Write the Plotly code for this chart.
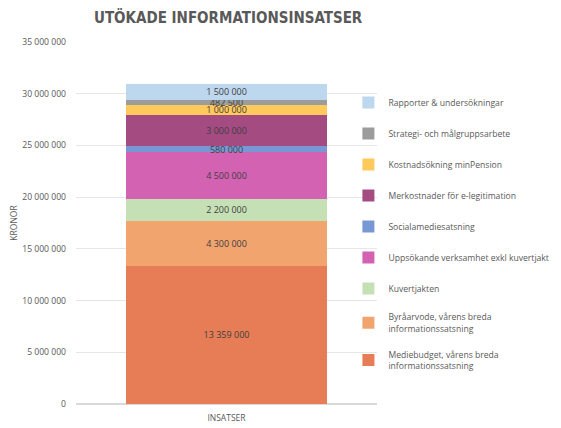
import plotly.graph_objects as go

category = ["INSATSER"]

series_names = [
    "Mediebudget, vårens breda<br>informationssatsning",
    "Byråarvode, vårens breda<br>informationssatsning",
    "Kuvertjakten",
    "Uppsökande verksamhet exkl kuvertjakt",
    "Socialamediesatsning",
    "Merkostnader för e-legitimation",
    "Kostnadsökning minPension",
    "Strategi- och målgruppsarbete",
    "Rapporter & undersökningar",
]
series_values = [13359000, 4300000, 2200000, 4500000, 580000, 3000000, 1000000, 482500, 1500000]
series_colors = ["#E67D56", "#F2A46F", "#C6E0B5", "#D462B3", "#7898D5",
                 "#A44B82", "#FFC95C", "#9C9C9C", "#BDD7EE"]

y_ticks = [0, 5000000, 10000000, 15000000, 20000000, 25000000, 30000000, 35000000]

fig = go.Figure()
n = len(series_names)
for i, (name, val, col) in enumerate(zip(series_names, series_values, series_colors)):
    fig.add_trace(go.Bar(
        x=category,
        y=[val],
        name=name,
        legendgroup=f"g{i}",
        legendrank=n - i,
        marker=dict(color=col, line=dict(width=0)),
        texttemplate="%{y:,}",
        textposition="inside",
        insidetextanchor="middle",
        constraintext="none",
        textfont=dict(size=9, color="#404040"),
        hoverinfo="skip",
    ))

# page body has an 8px margin, so the figure is a bit smaller than the window
fig.update_layout(
    width=553,
    height=420,
    barmode="stack",
    bargap=0.333,
    separators=", ",
    paper_bgcolor="white",
    plot_bgcolor="white",
    font=dict(family="Open Sans", size=9, color="#595959"),
    margin=dict(l=68, r=184, t=34, b=24, autoexpand=False),
    title=dict(
        text="<b>UTÖKADE INFORMATIONSINSATSER</b>",
        font=dict(family="DejaVu Sans Condensed, Open Sans", size=15, color="#595959"),
        x=0.398, xanchor="center", y=0.99, yanchor="top",
    ),
    yaxis=dict(
        range=[0, 35000000],
        tickvals=y_ticks,
        tickformat=",",
        showgrid=True,
        gridcolor="#E6E6E6",
        zeroline=True,
        zerolinecolor="#D9D9D9",
        ticks="",
        ticklabelstandoff=9,
        automargin=False,
        tickfont=dict(size=8.6, color="#595959"),
        title=dict(text="KRONOR", font=dict(size=8.5, color="#595959"), standoff=10),
    ),
    xaxis=dict(
        showgrid=False,
        ticks="",
        ticklabelstandoff=7,
        automargin=False,
        tickfont=dict(size=8.5, color="#595959"),
    ),
    legend=dict(
        x=0.905, xanchor="left",
        y=0.873, yanchor="top",
        traceorder="grouped",
        tracegroupgap=12,
        bgcolor="rgba(0,0,0,0)",
        font=dict(size=8.6, color="#595959"),
        itemwidth=30,
    ),
)

fig.write_html("out.html")
